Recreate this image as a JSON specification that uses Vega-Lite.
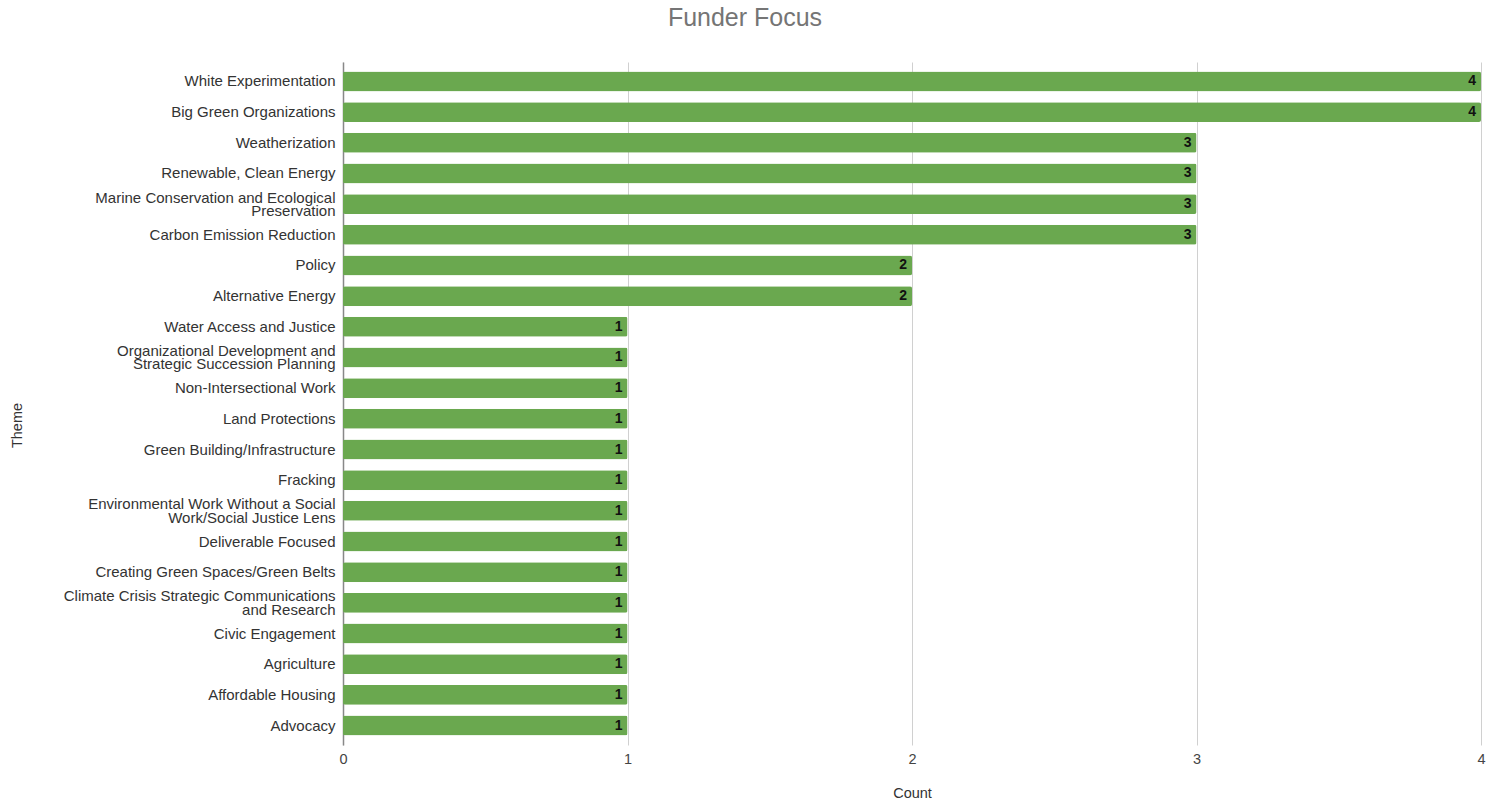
{
  "$schema": "https://vega.github.io/schema/vega-lite/v6.json",
  "width": 1138,
  "height": 683,
  "autosize": {"type": "none"},
  "padding": {"left": 343, "top": 62, "right": 18, "bottom": 59},
  "background": "white",
  "title": {
    "text": "Funder Focus",
    "anchor": "middle",
    "dx": -167,
    "offset": 31,
    "font": "Liberation Sans",
    "fontSize": 25,
    "fontWeight": "normal",
    "color": "#757575"
  },
  "config": {
    "view": {"stroke": null},
    "font": "Liberation Sans"
  },
  "data": {
    "values": [
      {"theme": "White Experimentation", "count": 4},
      {"theme": "Big Green Organizations", "count": 4},
      {"theme": "Weatherization", "count": 3},
      {"theme": "Renewable, Clean Energy", "count": 3},
      {"theme": "Marine Conservation and Ecological Preservation", "count": 3},
      {"theme": "Carbon Emission Reduction", "count": 3},
      {"theme": "Policy", "count": 2},
      {"theme": "Alternative Energy", "count": 2},
      {"theme": "Water Access and Justice", "count": 1},
      {"theme": "Organizational Development and Strategic Succession Planning", "count": 1},
      {"theme": "Non-Intersectional Work", "count": 1},
      {"theme": "Land Protections", "count": 1},
      {"theme": "Green Building/Infrastructure", "count": 1},
      {"theme": "Fracking", "count": 1},
      {"theme": "Environmental Work Without a Social Work/Social Justice Lens", "count": 1},
      {"theme": "Deliverable Focused", "count": 1},
      {"theme": "Creating Green Spaces/Green Belts", "count": 1},
      {"theme": "Climate Crisis Strategic Communications and Research", "count": 1},
      {"theme": "Civic Engagement", "count": 1},
      {"theme": "Agriculture", "count": 1},
      {"theme": "Affordable Housing", "count": 1},
      {"theme": "Advocacy", "count": 1}
    ]
  },
  "encoding": {
    "y": {
      "field": "theme",
      "type": "nominal",
      "sort": null,
      "scale": {"paddingInner": 0.35, "paddingOuter": 0.31},
      "axis": {
        "title": "Theme",
        "titleFont": "Liberation Sans",
        "titleFontSize": 14.5,
        "titleFontWeight": "normal",
        "titleColor": "#333333",
        "titleX": -319,
        "titleY": 363,
        "labelFont": "Liberation Sans",
        "labelFontSize": 15,
        "labelColor": "#333333",
        "labelPadding": 8,
        "labelLimit": 400,
        "labelLineHeight": 13.5,
        "labelOffset": {"condition": {"test": "length(datum.value) > 40", "value": -6.5}, "value": 0},
        "ticks": false,
        "domain": true,
        "domainColor": "#888888",
        "domainWidth": 1.5,
        "labelExpr": "datum.value == 'Marine Conservation and Ecological Preservation' ? ['Marine Conservation and Ecological', 'Preservation'] : datum.value == 'Organizational Development and Strategic Succession Planning' ? ['Organizational Development and', 'Strategic Succession Planning'] : datum.value == 'Environmental Work Without a Social Work/Social Justice Lens' ? ['Environmental Work Without a Social', 'Work/Social Justice Lens'] : datum.value == 'Climate Crisis Strategic Communications and Research' ? ['Climate Crisis Strategic Communications', 'and Research'] : datum.value"
      }
    },
    "x": {
      "field": "count",
      "type": "quantitative",
      "scale": {"domain": [0, 4], "nice": false},
      "axis": {
        "title": "Count",
        "titleFont": "Liberation Sans",
        "titleFontSize": 14.5,
        "titleFontWeight": "normal",
        "titleColor": "#333333",
        "titlePadding": 21,
        "values": [0, 1, 2, 3, 4],
        "format": "d",
        "labelFont": "Liberation Sans",
        "labelFontSize": 14.5,
        "labelColor": "#444444",
        "labelPadding": 7,
        "labelFlush": false,
        "domain": false,
        "ticks": false,
        "grid": true,
        "gridColor": "#d0d0d0",
        "gridWidth": 1
      }
    }
  },
  "layer": [
    {
      "mark": {"type": "bar", "color": "#6aa84f", "cornerRadius": 2}
    },
    {
      "mark": {"type": "text", "align": "right", "baseline": "middle", "dx": -5, "fontWeight": "bold", "fontSize": 14, "color": "#111111", "font": "Liberation Sans"},
      "encoding": {"text": {"field": "count", "type": "quantitative"}}
    }
  ]
}
